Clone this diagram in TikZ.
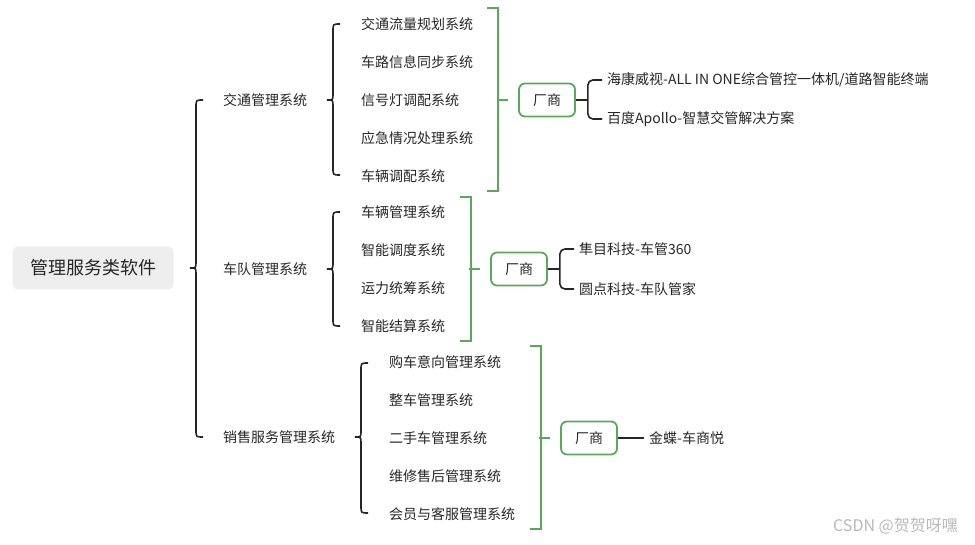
\documentclass[tikz,border=0pt]{standalone}
\usepackage{fontspec}
\setmainfont{Noto Sans CJK SC}
\usetikzlibrary{positioning}
\definecolor{mapgreen}{RGB}{90,168,90}
\definecolor{rootgray}{RGB}{238,238,238}
\tikzset{
  root node/.style={fill=rootgray,rounded corners=5pt,minimum width=161pt,minimum height=43pt,text=black!85,font=\fontsize{18}{20}\selectfont},
  branch/.style={inner sep=0pt,anchor=west,text=black!85,font=\fontsize{14}{16}\selectfont},
  leaf/.style={branch},
  maker/.style={draw=mapgreen,line width=1.8pt,rounded corners=6pt,minimum width=56pt,minimum height=33pt,text=black!85,font=\fontsize{14}{16}\selectfont},
  brace line/.style={line width=1.6pt,black!85},
  green line/.style={line width=1.6pt,mapgreen},
}
% curly brace: x, top, middle, bottom
\newcommand{\curly}[4]{%
  \draw[brace line] (#1+7,#2) .. controls (#1,#2) .. (#1,#2+7) -- (#1,#3-6)
    .. controls (#1,#3) .. (#1-6,#3) .. controls (#1,#3) .. (#1,#3+6)
    -- (#1,#4-7) .. controls (#1,#4) .. (#1+7,#4);}
\begin{document}
\begin{tikzpicture}[x=1pt,y=-1pt]
\useasboundingbox (0,0) rectangle (975,545);
\node[root node] (root) at (93,268) {管理服务类软件};
\node[branch] (traffic) at (223,100) {交通管理系统};
\node[branch] (fleet) at (223,269) {车队管理系统};
\node[branch] (sales) at (223,437) {销售服务管理系统};
% traffic
\node[leaf] (t1) at (361,24) {交通流量规划系统};
\node[leaf] (t2) at (361,62) {车路信息同步系统};
\node[leaf] (t3) at (361,100) {信号灯调配系统};
\node[leaf] (t4) at (361,138) {应急情况处理系统};
\node[leaf] (t5) at (361,176) {车辆调配系统};
% fleet
\node[leaf] (f1) at (361,212) {车辆管理系统};
\node[leaf] (f2) at (361,250) {智能调度系统};
\node[leaf] (f3) at (361,288) {运力统筹系统};
\node[leaf] (f4) at (361,326) {智能结算系统};
% sales
\node[leaf] (s1) at (389,362) {购车意向管理系统};
\node[leaf] (s2) at (389,400) {整车管理系统};
\node[leaf] (s3) at (389,438) {二手车管理系统};
\node[leaf] (s4) at (389,476) {维修售后管理系统};
\node[leaf] (s5) at (389,514) {会员与客服管理系统};
% vendors
\node[maker] (maker1) at (547,100) {厂商};
\node[maker] (maker2) at (519,269) {厂商};
\node[maker] (maker3) at (589,438) {厂商};
\node[leaf] (hik) at (607,80) {海康威视-ALL IN ONE综合管控一体机/道路智能终端};
\node[leaf] (baidu) at (607,119) {百度Apollo-智慧交管解决方案};
\node[leaf] (sunmu) at (579,249) {隼目科技-车管360};
\node[leaf] (yuandian) at (579,289) {圆点科技-车队管家};
\node[leaf] (kingdee) at (649,438) {金蝶-车商悦};
\node[inner sep=0pt,anchor=east,text=gray!55,font=\fontsize{16}{18}\selectfont] (mark) at (958,526) {CSDN @贺贺呀嘿};
% braces
\curly{196}{100}{268}{437}
\curly{333}{24}{100}{175}
\curly{333}{212}{269}{326}
\curly{361}{363}{437}{513}
% green brackets
\draw[green line] (487,8) -- (498,8) -- (498,191) -- (487,191);
\draw[green line] ([xshift=-10pt]maker1.west) -- ++(-11,0);
\draw[green line] (460,197) -- (471,197) -- (471,341) -- (460,341);
\draw[green line] ([xshift=-10pt]maker2.west) -- ++(-11,0);
\draw[green line] (530,346) -- (541,346) -- (541,529) -- (530,529);
\draw[green line] ([xshift=-10pt]maker3.west) -- ++(-11,0);
% vendor links
\draw[brace line] (maker1.east) -- ++(12,0);
\draw[brace line,rounded corners=5pt] ([xshift=-5pt]hik.west) -| ([xshift=12pt]maker1.east) |- ([xshift=-5pt]baidu.west);
\draw[brace line] (maker2.east) -- ++(12,0);
\draw[brace line,rounded corners=5pt] ([xshift=-5pt]sunmu.west) -| ([xshift=12pt]maker2.east) |- ([xshift=-5pt]yuandian.west);
\draw[brace line] (maker3.east) -- ([xshift=-5pt]kingdee.west);
\end{tikzpicture}
\end{document}
